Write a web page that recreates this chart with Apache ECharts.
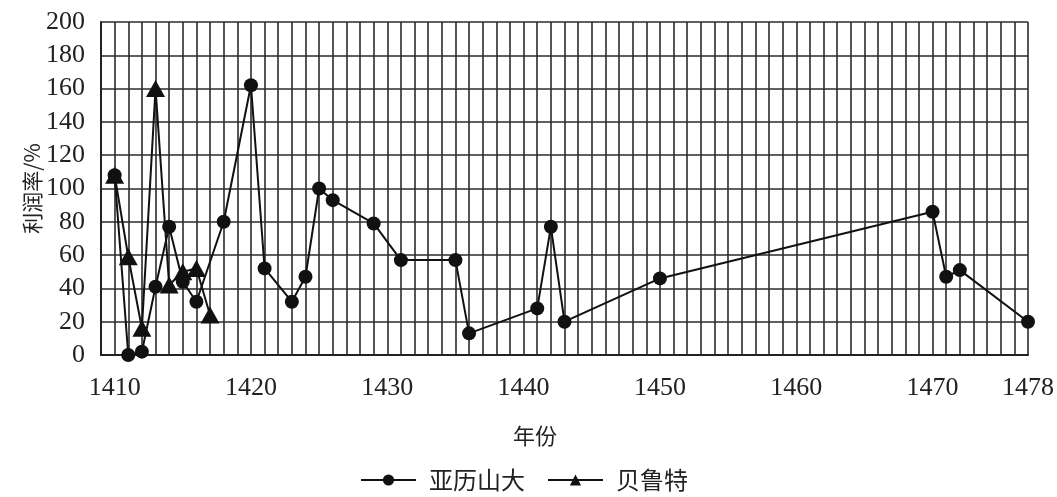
<!DOCTYPE html>
<html>
<head>
<meta charset="utf-8">
<script src="https://cdn.jsdelivr.net/npm/echarts@6/dist/echarts.min.js"></script>
<style>
html,body{margin:0;padding:0;background:#fff;}
#c{width:1057px;height:497px;}
</style>
</head>
<body>
<div id="c"></div>
<script>
// x categories: every year 1409..1476, then 1478 (the chart squeezes the last step)
var years = [];
for (var y = 1409; y <= 1476; y++) years.push(String(y));
years.push('1478');

var xTickLabels = ['1410','1420','1430','1440','1450','1460','1470','1478'];

var alexYears = ['1410','1411','1412','1413','1414','1415','1416','1418','1420','1421','1423','1424','1425','1426','1429','1431','1435','1436','1441','1442','1443','1450','1470','1471','1472','1478'];
var alexVals  = [108, 0, 2, 41, 77, 44, 32, 80, 162, 52, 32, 47, 100, 93, 79, 57, 57, 13, 28, 77, 20, 46, 86, 47, 51, 20];

var beirutYears = ['1410','1411','1412','1413','1414','1415','1416','1417'];
var beirutVals  = [108, 59, 16, 160, 42, 50, 52, 24];

function pairs(xs, vs){ return xs.map(function(x,i){ return [x, vs[i]]; }); }

var serif = '"Liberation Serif", "Times New Roman", serif';
var cjk = '"Noto Sans CJK SC", sans-serif';

var chart = echarts.init(document.getElementById('c'));
chart.setOption({
  animation: false,
  backgroundColor: '#fff',
  grid: {left: 101, right: 29, top: 22, bottom: 142, containLabel: false},
  legend: {
    bottom: 0,
    left: 355,
    itemWidth: 55,
    itemHeight: 14,
    itemGap: 22,
    textStyle: {fontFamily: cjk, fontSize: 24, color: '#222', padding: [0, 0, 0, 8]},
    data: ['亚历山大', '贝鲁特']
  },
  xAxis: {
    type: 'category',
    data: years,
    boundaryGap: false,
    name: '年份',
    nameLocation: 'middle',
    nameGap: 70,
    nameMoveOverlap: false,
    nameTextStyle: {fontFamily: cjk, fontSize: 22, color: '#222', padding: [0, 59, 0, 0]},
    axisLine: {show: true, lineStyle: {color: '#222', width: 2}},
    axisTick: {show: false},
    axisLabel: {
      interval: function(i, v){ return xTickLabels.indexOf(v) >= 0; },
      fontFamily: serif, fontSize: 26, color: '#222', margin: 20
    },
    splitLine: {show: true, interval: 0, lineStyle: {color: '#2b2b2b', width: 1.6}}
  },
  yAxis: {
    type: 'value',
    min: 0, max: 200, interval: 20,
    name: '利润率/%',
    nameLocation: 'middle',
    nameGap: 58,
    nameMoveOverlap: false,
    nameTextStyle: {fontFamily: cjk, fontSize: 21, color: '#222'},
    axisLine: {show: true, lineStyle: {color: '#222', width: 2}},
    axisTick: {show: false},
    axisLabel: {fontFamily: serif, fontSize: 26, color: '#222', margin: 16},
    splitLine: {show: true, lineStyle: {color: '#2b2b2b', width: 1.6}}
  },
  series: [
    {
      name: '亚历山大',
      type: 'line',
      data: pairs(alexYears, alexVals),
      symbol: 'circle',
      symbolSize: 14,
      showAllSymbol: true,
      lineStyle: {color: '#111', width: 2},
      itemStyle: {color: '#111'},
      z: 2
    },
    {
      name: '贝鲁特',
      type: 'line',
      data: pairs(beirutYears, beirutVals),
      symbol: 'triangle',
      symbolSize: [19, 17],
      showAllSymbol: true,
      lineStyle: {color: '#111', width: 2},
      itemStyle: {color: '#111'},
      z: 6
    }
  ]
});
</script>
</body>
</html>
